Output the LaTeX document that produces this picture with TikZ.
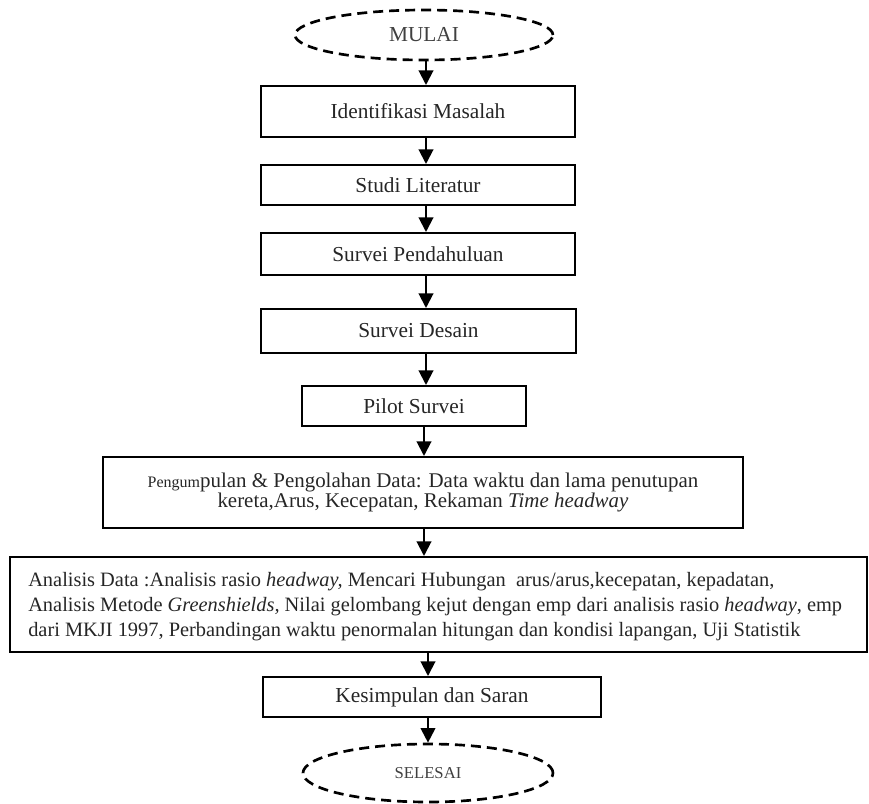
\documentclass[tikz,border=0pt]{standalone}
\usepackage{fontspec}
\setmainfont{Liberation Serif}
\usetikzlibrary{shapes.geometric,arrows.meta}
\newdimen\pxu \pxu=0.75pt
\begin{document}
\begin{tikzpicture}[x=0.75pt,y=-0.75pt,
  box/.style={draw=black, line width=1.5pt, rectangle, inner sep=0pt, font=\fontsize{16}{18}\selectfont, text=black!85},
  longtxt/.style={inner sep=0pt, font=\fontsize{15.3}{18.75}\selectfont, text=black!85},
  term/.style={draw=black, line width=2pt, dash pattern=on 7.5pt off 4.5pt, ellipse, inner sep=0pt, text=black!75},
  arr/.style={line width=1.5pt, -{Triangle[length=11pt,width=11pt]}},
]
\useasboundingbox (0,0) rectangle (869,804);

\node[term, minimum width=258\pxu, minimum height=50\pxu, font=\fontsize{16}{18}\selectfont] (mulai) at (424,35) {MULAI};
\node[box, minimum width=314\pxu, minimum height=51\pxu] (ident) at (418,111.5) {Identifikasi Masalah};
\node[box, minimum width=314\pxu, minimum height=40\pxu] (studi) at (418,185) {Studi Literatur};
\node[box, minimum width=314\pxu, minimum height=42\pxu] (pend) at (418,254) {Survei Pendahuluan};
\node[box, minimum width=315\pxu, minimum height=44\pxu] (desain) at (418.5,331) {Survei Desain};
\node[box, minimum width=224\pxu, minimum height=40\pxu] (pilot) at (414,406) {Pilot Survei};
\node[box, minimum width=640\pxu, minimum height=71\pxu, align=center, font=\fontsize{15.7}{14}\selectfont] (peng) at (423,492.5)
  {{\fontsize{12}{12}\selectfont Pengum}pulan \& Pengolahan Data: Data waktu dan lama penutupan\\kereta,Arus, Kecepatan, Rekaman \textit{Time headway}};
\node[box, minimum width=857\pxu, minimum height=95\pxu] (anal) at (438.5,604.5) {};
\node[longtxt, anchor=north west, align=left] (analtxt) at ([shift={(19,16)}]anal.north west)
  {Analisis Data :Analisis rasio \textit{headway,} Mencari Hubungan\ \ arus/arus,kecepatan, kepadatan,\\
   Analisis Metode \textit{Greenshields,} Nilai gelombang kejut dengan emp dari analisis rasio \textit{headway}, emp\\
   dari MKJI 1997, Perbandingan waktu penormalan hitungan dan kondisi lapangan, Uji Statistik};
\node[box, minimum width=338\pxu, minimum height=40\pxu] (kes) at (432,697) {Kesimpulan dan Saran};
\node[term, minimum width=250\pxu, minimum height=58\pxu, font=\fontsize{12.5}{14}\selectfont] (selesai) at (428,773) {SELESAI};

\coordinate (ax) at (426,0);
\coordinate (bx) at (424,0);
\coordinate (cx) at (428,0);
\draw[arr] (mulai.south -| ax) -- (ident.north -| ax);
\draw[arr] (ident.south -| ax) -- (studi.north -| ax);
\draw[arr] (studi.south -| ax) -- (pend.north -| ax);
\draw[arr] (pend.south -| ax) -- (desain.north -| ax);
\draw[arr] (desain.south -| ax) -- (pilot.north -| ax);
\draw[arr] (pilot.south -| bx) -- (peng.north -| bx);
\draw[arr] (peng.south -| bx) -- (anal.north -| bx);
\draw[arr] (anal.south -| cx) -- (kes.north -| cx);
\draw[arr] (kes.south -| cx) -- (selesai.north -| cx);
\end{tikzpicture}
\end{document}
